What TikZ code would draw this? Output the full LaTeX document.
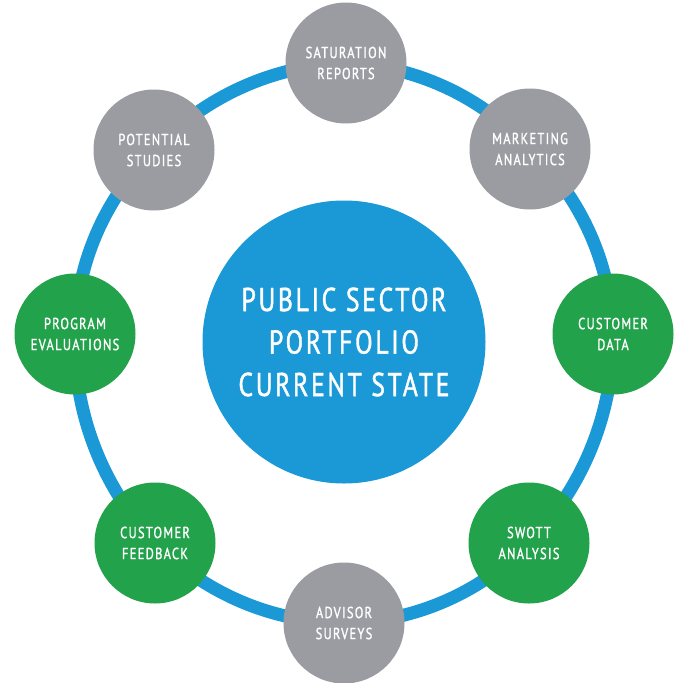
\documentclass[tikz,border=0pt]{standalone}
\usepackage{fontspec}
\usetikzlibrary{backgrounds}
\newfontfamily\labelfont{PT Sans}[FakeStretch=0.78, LetterSpace=8, FakeBold=1.2]

\definecolor{ringblue}{HTML}{1B99D6}
\definecolor{studygrey}{HTML}{9A9CA1}
\definecolor{datagreen}{HTML}{23A24C}

\begin{document}
\begin{tikzpicture}[x=1pt, y=-1pt,
    item/.style={circle, minimum size=121pt, inner sep=0pt, text=white, align=center,
                 font=\labelfont\fontsize{16}{21}\selectfont},
    grey/.style={item, fill=studygrey},
    green/.style={item, fill=datagreen},
    ring/.style={ringblue, line width=13pt}]
    \useasboundingbox (0,0) rectangle (680,683);
    \node[circle, fill=ringblue, minimum size=283pt, inner sep=0pt, text=white, align=center,
          font=\labelfont\fontsize{33}{42.5}\selectfont] (core) at (344,342)
          {PUBLIC SECTOR\\PORTFOLIO\\CURRENT STATE};
    \node[grey] (sat) at (346,63) {SATURATION\\REPORTS};
    \node[grey] (mkt) at (530,149) {MARKETING\\ANALYTICS};
    \node[green] (cdata) at (613,334) {CUSTOMER\\DATA};
    \node[green] (swott) at (529,543) {SWOTT\\ANALYSIS};
    \node[grey] (adv) at (344,623) {ADVISOR\\SURVEYS};
    \node[green] (fb) at (155,543) {CUSTOMER\\FEEDBACK};
    \node[green] (prog) at (75,334) {PROGRAM\\EVALUATIONS};
    \node[grey] (pot) at (154,150) {POTENTIAL\\STUDIES};
    \begin{pgfonlayer}{background}
        \draw[ring, bend left=22.5, looseness=0.885] (sat.center) to (mkt.center) to (cdata.center)
            to (swott.center) to (adv.center) to (fb.center) to (prog.center)
            to (pot.center) to (sat.center);
    \end{pgfonlayer}
\end{tikzpicture}
\end{document}
